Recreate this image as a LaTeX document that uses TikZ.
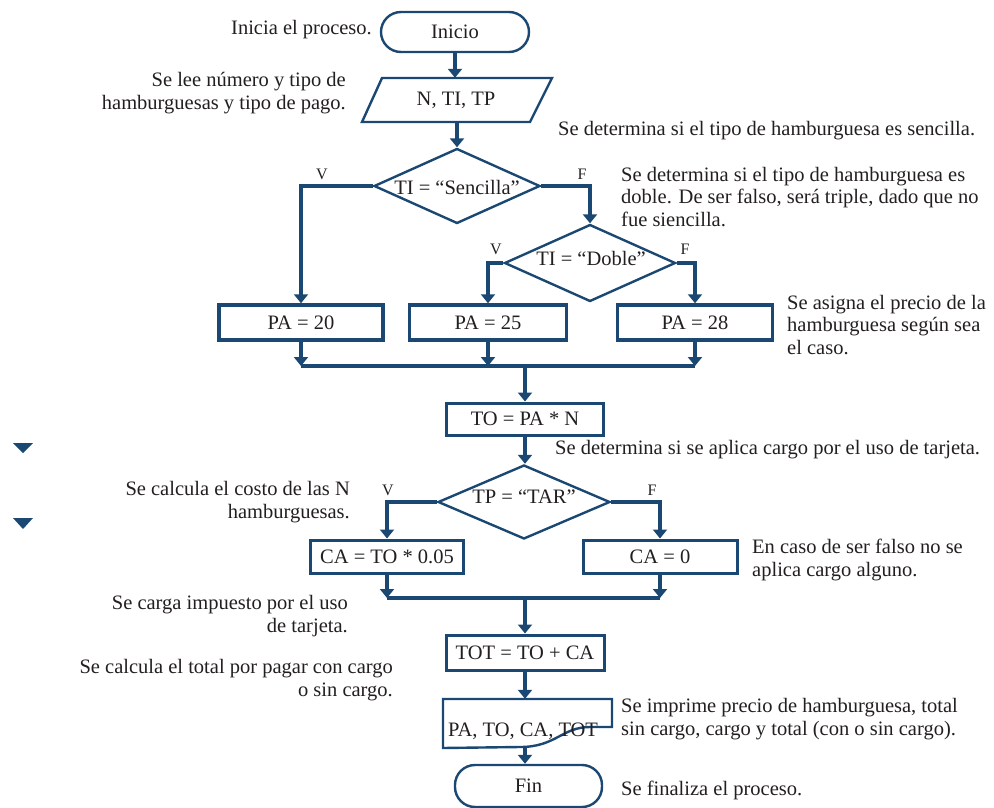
\documentclass[tikz,border=0pt]{standalone}
\usepackage{fontspec}
\setmainfont{Liberation Serif}
\usetikzlibrary{arrows.meta,shapes.geometric}
\definecolor{navy}{HTML}{1B4872}
\definecolor{ink}{HTML}{231F20}
\begin{document}
\begin{tikzpicture}[x=1pt,y=-1pt,
  font=\fontsize{20.5}{22.5}\selectfont,
  every node/.style={inner sep=0pt, text=ink},
  conn/.style={draw=navy, line width=3.2pt},
  arr/.style={conn, -{Triangle[width=14pt,length=9pt]}},
  box/.style={draw=navy, line width=3pt, fill=white},
  pabox/.style={box, line width=3.5pt, minimum width=#1, minimum height=35pt},
  term/.style={draw=navy, line width=2.4pt, rounded corners=20pt, minimum height=40pt},
  dec/.style={diamond, draw=navy, line width=2.4pt},
  outline/.style={draw=navy, line width=2.4pt, line join=miter},
  lbl/.style={font=\fontsize{16}{18}\selectfont},
  noteL/.style={anchor=west, align=left},
  noteR/.style={anchor=east, align=right}]
\useasboundingbox (0,0) rectangle (994,808);

% ---- main flow nodes
\node[term, minimum width=148pt] (inicio) at (455,32) {Inicio};
\node[minimum width=150pt, minimum height=44pt] (io) at (456,100) {N, TI, TP};
\draw[outline] (382,78) -- (552,78) -- (530,122) -- (362,122) -- cycle;

\node[dec, minimum width=166pt, minimum height=75pt] (d1) at (457,186) {};
\node (d1t) at (457,187) {TI = “Sencilla”};
\node[lbl] (v1) at (322,174) {V};
\node[lbl] (f1) at (582,174) {F};

\node[dec, minimum width=171pt, minimum height=77pt] (d2) at (590,263) {};
\node (d2t) at (591,258) {TI = “Doble”};
\node[lbl] (v2) at (496,249) {V};
\node[lbl] (f2) at (685,249) {F};

\node[pabox=164pt] (pa20) at (301,322.5) {PA = 20};
\node[pabox=157pt] (pa25) at (488,322.5) {PA = 25};
\node[pabox=155pt] (pa28) at (695,322.5) {PA = 28};

\node[box, minimum width=157pt, minimum height=32pt] (to) at (525,419) {TO = PA * N};

\node[dec, minimum width=172pt, minimum height=74pt] (d3) at (524,502) {};
\node (d3t) at (524,497) {TP = “TAR”};
\node[lbl] (v3) at (388,490) {V};
\node[lbl] (f3) at (652,490) {F};

\node[box, minimum width=153pt, minimum height=33pt] (ca1) at (387,556.5) {CA = TO * 0.05};
\node[box, minimum width=154pt, minimum height=33pt] (ca0) at (660,556.5) {CA = 0};

\node[box, minimum width=158pt, minimum height=35pt] (tot) at (525,652.5) {TOT = TO + CA};

\node[minimum width=169pt, minimum height=49pt] (doc) at (527.5,723.5) {};
\draw[outline] (443,699) -- (612,699) -- (612,727) -- (590,727)
  .. controls (562,727) and (556,747) .. (520,747) -- (443,748) -- cycle;
\node (doct) at (523,731) {PA, TO, CA, TOT};
\coordinate (docb) at (525,746);

\node[term, minimum width=147pt, minimum height=42pt] (fin) at (528.5,786) {Fin};

% ---- connectors
\draw[arr] (inicio.south) -- (inicio.south |- io.north);
\draw[arr] (io.south) -- (io.south -| d1.north) -- (d1.north);
\draw[arr] (d1.west) -| (pa20.north);
\draw[arr] (d1.east) -| (d2.north);
\draw[arr] (d2.west) -| (pa25.north);
\draw[arr] (d2.east) -| (pa28.north);

\coordinate (mrow) at (0,366);
\draw[arr] (pa20.south) -- (pa20.south |- mrow);
\draw[arr] (pa25.south) -- (pa25.south |- mrow);
\draw[arr] (pa28.south) -- (pa28.south |- mrow);
\draw[conn] (pa20.south |- mrow) -- (pa28.south |- mrow);
\draw[arr] (to.north |- mrow) -- (to.north);

\draw[arr] (to.south) -- (to.south |- d3.north);
\draw[arr] (d3.west) -| (ca1.north);
\draw[arr] (d3.east) -| (ca0.north);

\coordinate (mrow2) at (0,598);
\draw[arr] (ca1.south) -- (ca1.south |- mrow2);
\draw[arr] (ca0.south) -- (ca0.south |- mrow2);
\draw[conn] (ca1.south |- mrow2) -- (ca0.south |- mrow2);
\draw[arr] (tot.north |- mrow2) -- (tot.north);

\draw[arr] (tot.south) -- (tot.south |- doc.north);
\draw[arr] (docb) -- (docb |- fin.north);

% ---- side markers
\fill[navy] (13,443) -- (33,443) -- (23,453) -- cycle;
\fill[navy] (13,518) -- (33,518) -- (23,529) -- cycle;

% ---- annotations
\node[noteR] (n1) at (372,30) {Inicia el proceso.};
\node[noteR] (n2) at (346,93) {Se lee número y tipo de\\hamburguesas y tipo de pago.};
\node[noteL] (n3) at (558,131) {Se determina si el tipo de hamburguesa es sencilla.};
\node[noteL] (n4) at (621,197) {Se determina si el tipo de hamburguesa es\\doble. De ser falso, será triple, dado que no\\fue siencilla.};
\node[noteL] (n5) at (787,325) {Se asigna el precio de la\\hamburguesa según sea\\el caso.};
\node[noteL] (n6) at (555,450) {Se determina si se aplica cargo por el uso de tarjeta.};
\node[noteR] (n7) at (350,502) {Se calcula el costo de las N\\hamburguesas.};
\node[noteL] (n8) at (752,560) {En caso de ser falso no se\\aplica cargo alguno.};
\node[noteR] (n9) at (348,616) {Se carga impuesto por el uso\\de tarjeta.};
\node[noteR] (n10) at (393,680) {Se calcula el total por pagar con cargo\\o sin cargo.};
\node[noteL] (n11) at (621,719) {Se imprime precio de hamburguesa, total\\sin cargo, cargo y total (con o sin cargo).};
\node[noteL] (n12) at (621,790) {Se finaliza el proceso.};
\end{tikzpicture}
\end{document}
